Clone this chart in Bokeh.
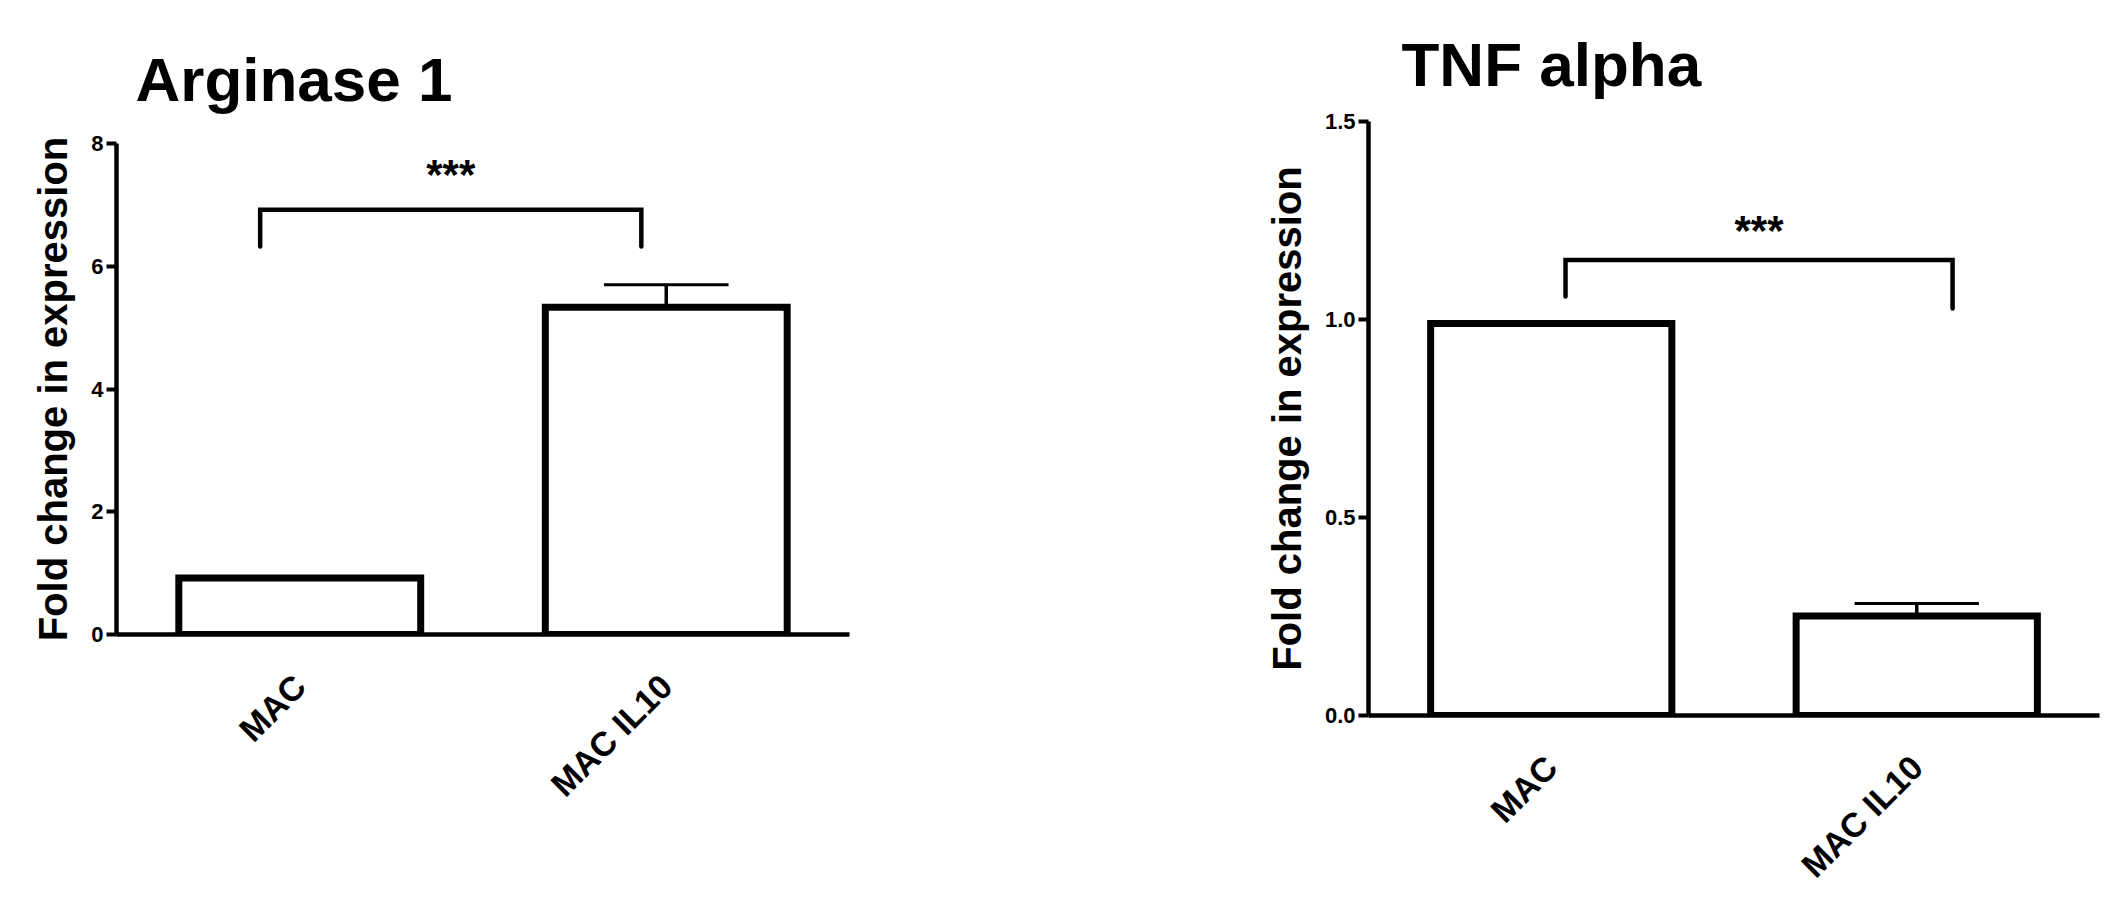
import math
from bokeh.plotting import figure
from bokeh.layouts import row, column
from bokeh.models import FixedTicker, NumeralTickFormatter, Range1d, ColumnDataSource
from bokeh.core.properties import value
from bokeh.embed import file_html
from bokeh.resources import INLINE

# ---------------- data ----------------
categories = ["MAC", "MAC IL10"]

arg_title = "Arginase 1"
arg_values = [0.92, 5.33]
arg_errors = [0.0, 0.37]
arg_yticks = [0, 2, 4, 6, 8]
arg_ymax = 8

tnf_title = "TNF alpha"
tnf_values = [0.99, 0.251]
tnf_errors = [0.0, 0.032]
tnf_yticks = [0.0, 0.5, 1.0, 1.5]
tnf_ymax = 1.5

y_label = "Fold change in expression"
sig_text = "***"

# significance brackets: x offsets from the two category centres, end heights, top height, label height
arg_bracket_dx = [-0.108, -0.068]
arg_bracket_ends = [6.32, 6.32]
arg_bracket_top = 6.92
arg_star_y = 7.5

tnf_bracket_dx = [0.039, 0.098]
tnf_bracket_ends = [1.058, 1.028]
tnf_bracket_top = 1.15
tnf_star_y = 1.224

FONT = "Liberation Sans"


def make_panel(title, values, errors, yticks, ymax, tick_fmt,
               bdx, bends, btop, stary,
               width, height, bl, br, bt, bb, title_offset, title_standoff):
    n = len(categories)
    xs = [i + 0.5 for i in range(n)]
    p = figure(width=width, height=height,
               x_range=Range1d(0, n), y_range=Range1d(0, ymax),
               output_backend="svg", toolbar_location=None,
               min_border_left=bl, min_border_right=br,
               min_border_top=bt, min_border_bottom=bb)
    p.background_fill_color = "white"
    p.border_fill_color = "white"
    p.outline_line_color = None
    p.xgrid.grid_line_color = None
    p.ygrid.grid_line_color = None

    p.title.text = title
    p.title.text_font = FONT
    p.title.text_font_style = "bold"
    p.title.text_font_size = "62px"
    p.title.text_color = "black"
    p.title.align = "left"
    p.title.offset = title_offset
    p.title.standoff = title_standoff

    src = ColumnDataSource(dict(x=xs, top=values))
    p.vbar(x="x", top="top", bottom=0, width=0.66, source=src,
           fill_color="white", line_color="black", line_width=7,
           line_join="miter")

    ex = [x for x, e in zip(xs, errors) if e > 0]
    ev = [v for v, e in zip(values, errors) if e > 0]
    ee = [v + e for v, e in zip(values, errors) if e > 0]
    esrc = ColumnDataSource(dict(x=ex, v=ev, e=ee,
                                 xl=[x - 0.17 for x in ex], xr=[x + 0.17 for x in ex]))
    p.segment(x0="x", y0="v", x1="x", y1="e", source=esrc,
              line_color="black", line_width=3.5)
    p.segment(x0="xl", y0="e", x1="xr", y1="e", source=esrc,
              line_color="black", line_width=3)

    x1 = xs[0] + bdx[0]
    x2 = xs[1] + bdx[1]
    p.line(x=[x1, x1, x2, x2], y=[bends[0], btop, btop, bends[1]],
           line_color="black", line_width=4.5, line_join="miter", line_cap="round")
    p.text(x=[(x1 + x2) / 2], y=[stary], text=[sig_text],
           text_font=value(FONT), text_font_style="bold", text_font_size="42px",
           text_align="center", text_baseline="alphabetic", text_color="black")

    xa = p.xaxis[0]
    xa.ticker = FixedTicker(ticks=xs)
    xa.major_label_overrides = {x: c for x, c in zip(xs, categories)}
    xa.major_label_orientation = math.pi / 4
    xa.major_label_text_font = FONT
    xa.major_label_text_font_style = "bold"
    xa.major_label_text_font_size = "34px"
    xa.major_label_text_color = "black"
    xa.major_label_standoff = 46
    xa.major_tick_out = 0
    xa.major_tick_in = 0
    xa.minor_tick_out = 0
    xa.minor_tick_in = 0
    xa.axis_line_width = 4.5
    xa.axis_line_color = "black"

    ya = p.yaxis[0]
    ya.ticker = FixedTicker(ticks=yticks)
    ya.formatter = NumeralTickFormatter(format=tick_fmt)
    ya.major_label_text_font = FONT
    ya.major_label_text_font_style = "bold"
    ya.major_label_text_font_size = "22px"
    ya.major_label_text_color = "black"
    ya.major_label_standoff = 3
    ya.major_tick_out = 10
    ya.major_tick_in = 0
    ya.major_tick_line_width = 4
    ya.major_tick_line_color = "black"
    ya.minor_tick_out = 0
    ya.minor_tick_in = 0
    ya.axis_line_width = 4.5
    ya.axis_line_color = "black"
    ya.axis_label = y_label
    ya.axis_label_text_font = FONT
    ya.axis_label_text_font_style = "bold"
    ya.axis_label_text_font_size = "40px"
    ya.axis_label_text_color = "black"
    ya.axis_label_standoff = 13
    return p


p1 = make_panel(arg_title, arg_values, arg_errors, arg_yticks, arg_ymax, "0",
                arg_bracket_dx, arg_bracket_ends, arg_bracket_top, arg_star_y,
                1052, 900, 116, 203, 143, 266, 19, 60)
p2 = make_panel(tnf_title, tnf_values, tnf_errors, tnf_yticks, tnf_ymax, "0.0",
                tnf_bracket_dx, tnf_bracket_ends, tnf_bracket_top, tnf_star_y,
                1060, 900, 316, 13, 121, 182, 33, 46)

layout = row(column(p1), column(p2))
open("out.html", "w").write(file_html(layout, INLINE))
